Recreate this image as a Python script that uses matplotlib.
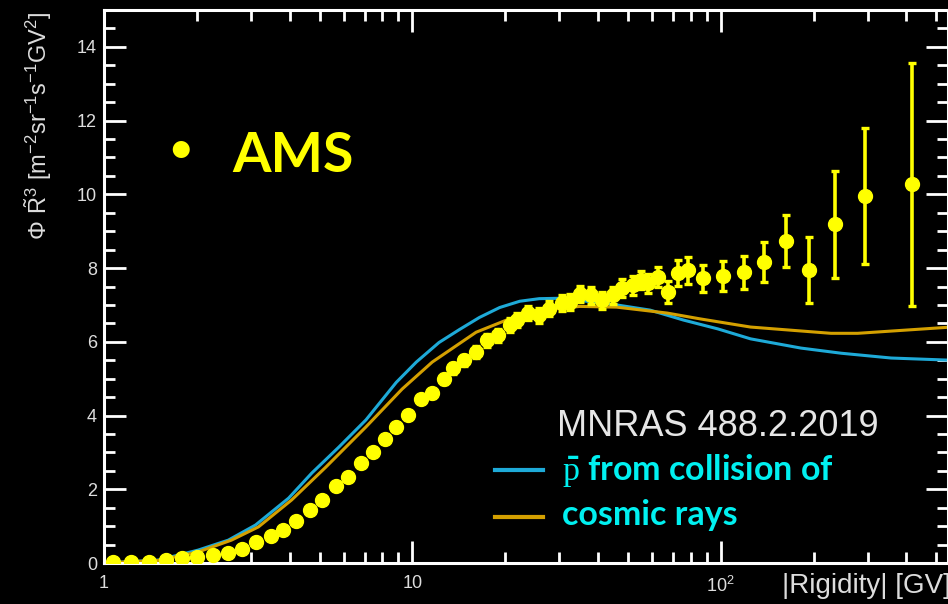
import matplotlib
matplotlib.use("Agg")
import matplotlib.pyplot as plt
from matplotlib.ticker import MultipleLocator, LogLocator, FuncFormatter, NullFormatter
import numpy as np

plt.rcParams['font.family'] = ['Liberation Sans', 'DejaVu Sans']
plt.rcParams['mathtext.fontset'] = 'custom'
plt.rcParams['mathtext.rm'] = 'Liberation Serif'
plt.rcParams['mathtext.default'] = 'regular'

# ---- data ----
ams_rigidity = [1.07, 1.22, 1.40, 1.59, 1.79, 2.01, 2.26, 2.52, 2.80, 3.10, 3.47, 3.80,
                4.21, 4.65, 5.09, 5.65, 6.19, 6.81, 7.46, 8.18, 8.87, 9.7, 10.7, 11.6,
                12.7, 13.5, 14.7, 16.1, 17.4, 18.9, 20.7, 21.9, 23.7, 25.8, 27.8, 30.5,
                32.4, 34.9, 38.1, 41.2, 44.6, 48.0, 51.8, 55.0, 58.2, 62.7, 67.6, 72.7,
                78.5, 87.6, 102, 119, 138, 163, 194, 234, 294, 418]
ams_flux = [0.03, 0.02, 0.03, 0.08, 0.14, 0.16, 0.22, 0.27, 0.38, 0.57, 0.73, 0.89,
            1.14, 1.44, 1.71, 2.09, 2.33, 2.71, 3.00, 3.36, 3.69, 4.02, 4.45, 4.60,
            5.00, 5.28, 5.50, 5.72, 6.04, 6.18, 6.45, 6.59, 6.78, 6.72, 6.90, 7.05,
            7.07, 7.30, 7.26, 7.13, 7.26, 7.45, 7.53, 7.67, 7.59, 7.75, 7.34, 7.86,
            7.94, 7.72, 7.78, 7.89, 8.16, 8.73, 7.94, 9.19, 9.95, 10.27]
ams_err = [0.03, 0.03, 0.03, 0.03, 0.03, 0.03, 0.03, 0.03, 0.04, 0.04, 0.04, 0.05,
           0.05, 0.05, 0.06, 0.06, 0.07, 0.07, 0.08, 0.08, 0.09, 0.10, 0.12, 0.12,
           0.14, 0.14, 0.15, 0.16, 0.17, 0.18, 0.19, 0.20, 0.20, 0.21, 0.21, 0.22,
           0.22, 0.22, 0.23, 0.23, 0.24, 0.24, 0.25, 0.25, 0.26, 0.27, 0.30, 0.35,
           0.37, 0.37, 0.40, 0.45, 0.55, 0.70, 0.90, 1.45, 1.85, 3.30]

cyan_rigidity = [1.0, 1.5, 2.02, 2.53, 3.1, 3.97, 4.72, 5.77, 7.07, 8.87, 10.3, 12.2,
                 14.2, 16.5, 19.2, 22.3, 25.8, 30.0, 36.8, 46, 59, 75.7, 97.9, 125,
                 182, 246, 357, 560]
cyan_flux = [0.0, 0.08, 0.35, 0.62, 1.03, 1.76, 2.44, 3.14, 3.88, 4.90, 5.45, 5.98,
             6.33, 6.66, 6.93, 7.10, 7.17, 7.18, 7.10, 7.00, 6.86, 6.59, 6.35, 6.08,
             5.83, 5.69, 5.56, 5.50]

gold_rigidity = [1.0, 1.5, 2.02, 2.59, 3.17, 4.06, 5.24, 7.07, 9.27, 11.6, 16.1, 20.2,
                 26.4, 34.9, 46, 67, 86, 125, 228, 278, 560]
gold_flux = [0.0, 0.07, 0.30, 0.62, 0.98, 1.71, 2.60, 3.69, 4.72, 5.45, 6.26, 6.59,
             6.86, 6.96, 6.94, 6.78, 6.62, 6.40, 6.23, 6.23, 6.40]

y_ticks = [0, 2, 4, 6, 8, 10, 12, 14]
x_tick_labels = {1: '1', 10: '10', 100: '10$^{2}$'}

# ---- figure ----
W, H = 948, 604
fig = plt.figure(figsize=(W / 100, H / 100), dpi=100, facecolor='black')
ax = fig.add_axes([104 / W, (H - 563) / H, 1 - 104 / W, (563 - 10) / H])
ax.set_facecolor('black')

ax.plot(cyan_rigidity, cyan_flux, color='#1eaad8', lw=2.2, zorder=2)
ax.plot(gold_rigidity, gold_flux, color='#d4a000', lw=2.2, zorder=2)
ax.errorbar(ams_rigidity, ams_flux, yerr=ams_err, fmt='o', color='#ffff00',
            ms=10, elinewidth=2.6, capsize=3, capthick=2.4, zorder=3)

ax.set_xscale('log')
ax.set_xlim(1, 546)
ax.set_ylim(0, 15)

for s in ax.spines.values():
    s.set_color('white')
    s.set_linewidth(2.2)

ax.yaxis.set_major_locator(MultipleLocator(2))
ax.yaxis.set_minor_locator(MultipleLocator(0.5))
ax.set_yticks(y_ticks)
ax.xaxis.set_major_locator(LogLocator(base=10))
ax.xaxis.set_minor_locator(LogLocator(base=10, subs=np.arange(2, 10)))
ax.xaxis.set_minor_formatter(NullFormatter())
ax.xaxis.set_major_formatter(FuncFormatter(lambda v, p: x_tick_labels.get(int(round(v)), '')))

ax.tick_params(which='both', direction='in', top=True, right=True, color='white',
               width=2, labelcolor='#dddddd', labelsize=13)
ax.tick_params(which='major', length=16)
ax.tick_params(which='minor', length=8)
ax.tick_params(axis='y', pad=5)
ax.tick_params(axis='x', pad=9)

# axis labels
fig.text(38 / W, 1 - 126 / H,
         r'$\Phi\ \tilde{R}^{3}$ [m$^{-2}$sr$^{-1}$s$^{-1}$GV$^{2}$]',
         rotation=90, ha='center', va='center', color='#dddddd', fontsize=17)
fig.text(782 / W, 1 - 586 / H, '|Rigidity| [GV]', ha='left', va='center',
         color='#dddddd', fontsize=20)

# annotations
fig.text(181 / W, 1 - 150 / H, '\u2022', ha='center', va='center', color='#ffff00',
         fontsize=28, family='Lato', fontweight='bold')
fig.text(232 / W, 1 - 172 / H, 'AMS', ha='left', va='baseline', color='#ffff00',
         fontsize=40, family='Lato', fontweight='bold')
fig.text(557 / W, 1 - 436 / H, 'MNRAS 488.2.2019', ha='left', va='baseline',
         color='#e6e6e6', fontsize=26)

fig.add_artist(plt.Line2D([495 / W, 543 / W], [1 - 470 / H, 1 - 470 / H],
                          color='#1eaad8', lw=3))
fig.add_artist(plt.Line2D([495 / W, 543 / W], [1 - 517 / H, 1 - 517 / H],
                          color='#d4a000', lw=3))
fig.text(562 / W, 1 - 480 / H, r'$\bar{\mathrm{p}}$ from collision of', ha='left',
         va='baseline', color='#00f0f0', fontsize=24.5, family='Lato', fontweight='bold')
fig.text(562 / W, 1 - 525 / H, 'cosmic rays', ha='left', va='baseline',
         color='#00f0f0', fontsize=24.5, family='Lato', fontweight='bold')

fig.savefig('out.png', dpi=100, facecolor='black')
